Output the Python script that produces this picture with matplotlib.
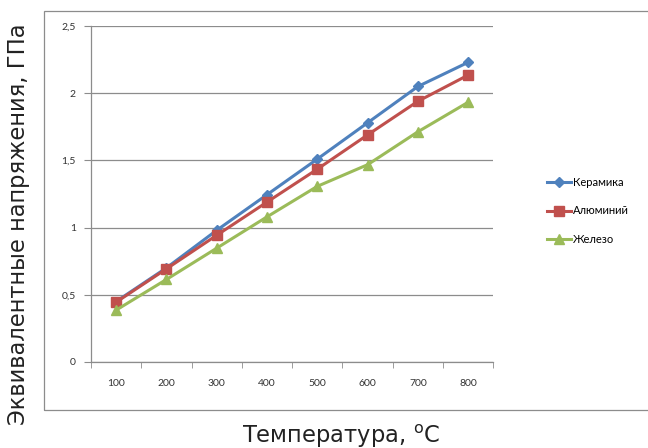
import numpy as np
import matplotlib.pyplot as plt
from matplotlib.patches import Rectangle

# temperatures, °C
temps = ['100', '200', '300', '400', '500', '600', '700', '800']

# equivalent stress, GPa
keramika = [0.45, 0.70, 0.98, 1.245, 1.51, 1.78, 2.05, 2.23]
aluminiy = [0.445, 0.693, 0.943, 1.19, 1.435, 1.69, 1.94, 2.135]
zhelezo = [0.386, 0.614, 0.847, 1.08, 1.307, 1.468, 1.713, 1.933]

y_ticks = [0, 0.5, 1, 1.5, 2, 2.5]
y_ticklabels = ['0', '0,5', '1', '1,5', '2', '2,5']

fig = plt.figure(figsize=(6.48, 4.48), dpi=100)
ax = fig.add_axes([0.1404, 0.192, 0.621, 0.750])

# chart area frame (right edge runs off the picture, like the original)
fig.patches.append(Rectangle((44 / 648, 1 - 410 / 448), 0.95, (410 - 11) / 448,
                             transform=fig.transFigure, fill=False,
                             edgecolor='#8c8c8c', lw=0.9))

x = np.arange(len(temps))
ax.plot(x, keramika, color='#4F81BD', marker='D', ms=5, lw=2.2, label='Керамика')
ax.plot(x, aluminiy, color='#C0504D', marker='s', ms=7, lw=2.2, label='Алюминий')
ax.plot(x, zhelezo, color='#9BBB59', marker='^', ms=7, lw=2.2, label='Железо')

ax.set_xlim(-0.5, len(temps) - 0.5)
ax.set_ylim(0, 2.5)

ax.set_yticks(y_ticks)
ax.set_yticklabels(y_ticklabels, fontsize=7.5, color='#333333', family='Lato')
ax.tick_params(axis='y', length=5, color='#8c8c8c', pad=6)

ax.set_xticks(x)
ax.set_xticklabels(temps, fontsize=7.5, color='#333333', family='Lato')
ax.set_xticks(np.arange(-0.5, len(temps), 1), minor=True)
ax.tick_params(axis='x', which='major', length=0, pad=12)
ax.tick_params(axis='x', which='minor', length=4, color='#8c8c8c')

ax.yaxis.grid(True, color='#8c8c8c', lw=0.9)
ax.set_axisbelow(True)
for s in ('top', 'right'):
    ax.spines[s].set_visible(False)
for s in ('left', 'bottom'):
    ax.spines[s].set_color('#8c8c8c')
    ax.spines[s].set_linewidth(0.9)

fig.text(0.028, 0.5, 'Эквивалентные напряжения, ГПа', rotation=90,
         ha='center', va='center', fontsize=16.3, color='#222222')
fig.text(0.527, 0.027, r'Температура, $^{\mathrm{o}}$C',
         ha='center', va='center', fontsize=16.3, color='#222222')

ax.legend(loc='center left', bbox_to_anchor=(541 / 648, 1 - 211 / 448),
          bbox_transform=fig.transFigure, frameon=False,
          prop={'family': 'Lato', 'size': 8}, handlelength=2.2,
          handletextpad=0.2, labelspacing=1.6, borderpad=0)

fig.savefig('out.png', dpi=100)
